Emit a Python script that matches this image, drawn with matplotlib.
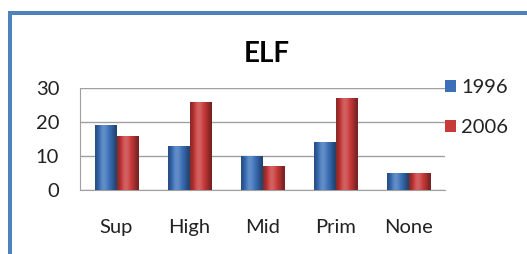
import numpy as np
import matplotlib
matplotlib.use('Agg')
import matplotlib.pyplot as plt
from matplotlib.patches import Rectangle
from matplotlib.colors import LinearSegmentedColormap

categories = ['Sup', 'High', 'Mid', 'Prim', 'None']
series_names = ['1996', '2006']
values_1996 = [19, 13, 10, 14, 5]
values_2006 = [16, 26, 7, 27, 5]
yticks = [0, 10, 20, 30]

plt.rcParams['font.family'] = ['Lato', 'DejaVu Sans']

blue = '#3b70b8'
red = '#c8393a'

fig = plt.figure(figsize=(5.27, 2.54), dpi=100)
fig.patch.set_facecolor('white')

# blue frame on left and top
fig.patches.append(Rectangle((8 / 527, 0), 4 / 527, 1 - 11 / 254, transform=fig.transFigure,
                             facecolor='#4f81bd', edgecolor='none'))
fig.patches.append(Rectangle((8 / 527, 1 - 15 / 254), 1, 4 / 254, transform=fig.transFigure,
                             facecolor='#4f81bd', edgecolor='none'))

ax = fig.add_axes([80 / 527, 1 - 190 / 254, 365 / 527, 102 / 254])

x = np.arange(len(categories))
w = 0.29


def shade(bars, base):
    cmap = LinearSegmentedColormap.from_list('s', ['#000000', base, '#ffffff'])
    grad = np.array([[0.35, 0.5, 0.62, 0.58, 0.5, 0.42, 0.3]])
    for b in bars:
        x0, y0 = b.get_x(), b.get_y()
        im = ax.imshow(grad, cmap=cmap, vmin=0, vmax=1, aspect='auto', interpolation='bicubic',
                       extent=[x0, x0 + b.get_width(), y0, y0 + b.get_height()], zorder=3)
        im.set_clip_path(b)


b1 = ax.bar(x - w / 2, values_1996, w, color=blue, label=series_names[0], zorder=2)
b2 = ax.bar(x + w / 2, values_2006, w, color=red, label=series_names[1], zorder=2)
shade(b1, blue)
shade(b2, red)

ax.set_xlim(-0.5, len(categories) - 0.5)
ax.set_ylim(0, 30)
ax.set_yticks(yticks)
ax.set_xticks(x)
ax.set_xticklabels(categories)
ax.tick_params(axis='x', length=0, pad=21, labelsize=14.5, colors='#222222')
ax.tick_params(axis='y', length=0, pad=15, labelsize=14.5, colors='#222222')
ax.grid(axis='y', color='#a0a0a0', linewidth=1)
ax.set_axisbelow(True)
for s in ['top', 'right']:
    ax.spines[s].set_visible(False)
for s in ['left', 'bottom']:
    ax.spines[s].set_color('#a0a0a0')
ax.set_facecolor('white')

fig.text(267 / 527, 1 - 54 / 254, 'ELF', ha='center', va='center', fontsize=20, fontweight='bold')

fig.legend(handles=[b1, b2], labels=series_names, loc='upper left',
           bbox_to_anchor=(445 / 527, 1 - 79 / 254), frameon=False, fontsize=14.5,
           borderpad=0, borderaxespad=0,
           handlelength=0.55, handleheight=0.55, handletextpad=0.25, labelspacing=1.15,
           labelcolor='#222222')

fig.savefig('out.png', dpi=100, facecolor='white')
